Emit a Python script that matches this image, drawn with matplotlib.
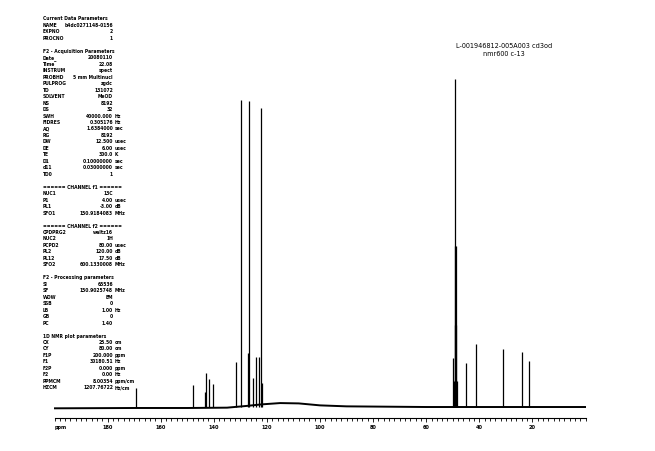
import matplotlib
matplotlib.use("Agg")
import matplotlib.pyplot as plt
from matplotlib.ticker import MultipleLocator

# ── Spectrum data (13C, ppm / relative intensity, solvent line = 100) ──
peak_ppm = [169.4, 147.8, 143.4, 142.8, 141.7, 140.2, 131.5, 129.6, 127.2,
            126.9, 125.3, 124.0, 123.0, 122.1, 121.7,
            50.0, 45.1, 41.1, 31.0, 23.9, 21.4]
peak_int = [5.8, 6.7, 4.6, 10.4, 8.5, 7.0, 13.7, 93.6, 16.5,
            93.3, 8.8, 15.2, 15.2, 91.2, 7.3,
            14.8, 13.5, 19.1, 17.6, 16.7, 13.9]

# CD3OD septet
solvent_ppm = [49.43, 49.29, 49.14, 49.00, 48.86, 48.71, 48.57]
solvent_int = [8, 25, 49, 100, 49, 25, 8]

# baseline drift (broad hump near 115 ppm)
base_ppm = [200, 170, 150, 135, 128, 122, 115, 108, 100, 90, 60, 0]
base_int = [-0.4, -0.3, -0.3, -0.2, 0.3, 0.8, 1.2, 1.1, 0.5, 0.2, 0.0, 0.0]

axis_labels = [180, 160, 140, 120, 100, 80, 60, 40, 20]

title_lines = ["L-001946812-005A003 cd3od", "nmr600 c-13"]

# ── Bruker parameter block ─────────────────────────────────────
params = [
    ("Current Data Parameters", None, None),
    ("NAME", "b4dc0271148-0156", None),
    ("EXPNO", "2", None),
    ("PROCNO", "1", None),
    ("", None, None),
    ("F2 - Acquisition Parameters", None, None),
    ("Date_", "20080110", None),
    ("Time", "22.08", None),
    ("INSTRUM", "spect", None),
    ("PROBHD", "5 mm Multinucl", None),
    ("PULPROG", "zgdc", None),
    ("TD", "131072", None),
    ("SOLVENT", "MeOD", None),
    ("NS", "8192", None),
    ("DS", "32", None),
    ("SWH", "40000.000", "Hz"),
    ("FIDRES", "0.305176", "Hz"),
    ("AQ", "1.6384000", "sec"),
    ("RG", "8192", None),
    ("DW", "12.500", "usec"),
    ("DE", "6.00", "usec"),
    ("TE", "300.0", "K"),
    ("D1", "0.10000000", "sec"),
    ("d11", "0.03000000", "sec"),
    ("TD0", "1", None),
    ("", None, None),
    ("====== CHANNEL f1 ======", None, None),
    ("NUC1", "13C", None),
    ("P1", "4.00", "usec"),
    ("PL1", "-3.00", "dB"),
    ("SFO1", "150.9184083", "MHz"),
    ("", None, None),
    ("====== CHANNEL f2 ======", None, None),
    ("CPDPRG2", "waltz16", None),
    ("NUC2", "1H", None),
    ("PCPD2", "80.00", "usec"),
    ("PL2", "120.00", "dB"),
    ("PL12", "17.50", "dB"),
    ("SFO2", "600.1330008", "MHz"),
    ("", None, None),
    ("F2 - Processing parameters", None, None),
    ("SI", "65536", None),
    ("SF", "150.9025748", "MHz"),
    ("WDW", "EM", None),
    ("SSB", "0", None),
    ("LB", "1.00", "Hz"),
    ("GB", "0", None),
    ("PC", "1.40", None),
    ("", None, None),
    ("1D NMR plot parameters", None, None),
    ("CX", "25.50", "cm"),
    ("CY", "80.00", "cm"),
    ("F1P", "200.000", "ppm"),
    ("F1", "30180.51", "Hz"),
    ("F2P", "0.000", "ppm"),
    ("F2", "0.00", "Hz"),
    ("PPMCM", "8.00354", "ppm/cm"),
    ("HZCM", "1207.76722", "Hz/cm"),
]

# ── Figure ────────────────────────────────────────────────────
W, H = 655, 451
fig = plt.figure(figsize=(W / 100, H / 100), dpi=100)


def fx(px):
    return px / W


def fy(py):
    return 1 - py / H


ax = fig.add_axes([fx(54.5), fy(417.7), fx(585.5) - fx(54.5), fy(60) - fy(417.7)])

ax.plot(base_ppm, base_int, color="black", lw=1.4)
ax.vlines(peak_ppm, 0, peak_int, color="black", lw=0.9)
ax.vlines(solvent_ppm, 0, solvent_int, color="black", lw=0.9)

ax.set_xlim(200, 0)
ax.set_ylim(-3.26, 105.8)

for side in ["top", "right", "left"]:
    ax.spines[side].set_visible(False)
ax.spines["bottom"].set_linewidth(0.8)
ax.set_yticks([])

ax.xaxis.set_minor_locator(MultipleLocator(2))
ax.set_xticks(axis_labels)
ax.set_xticklabels([str(v) for v in axis_labels])
ax.tick_params(axis="x", which="major", direction="out", length=3, width=0.6,
               pad=2, labelsize=3.6)
ax.tick_params(axis="x", which="minor", direction="out", length=2.4, width=0.6)
for lbl in ax.get_xticklabels():
    lbl.set_fontweight("bold")
fig.text(fx(55), fy(427), "ppm", fontsize=3.6, fontweight="bold",
         ha="left", va="center")

# title
for i, line in enumerate(title_lines):
    fig.text(fx(504), fy(45.7 + i * 8.6), line, fontsize=4.7,
             ha="center", va="center")

# parameter block
row0, dy = 19, 6.47
txt = dict(fontsize=3.6, fontweight="bold", fontstretch="condensed", va="center")
for i, (label, value, unit) in enumerate(params):
    y = fy(row0 + i * dy)
    if label:
        fig.text(fx(43), y, label, ha="left", **txt)
    if value is not None:
        fig.text(fx(113), y, value, ha="right", **txt)
    if unit is not None:
        fig.text(fx(115), y, unit, ha="left", **txt)

fig.savefig("out.png", dpi=100)
